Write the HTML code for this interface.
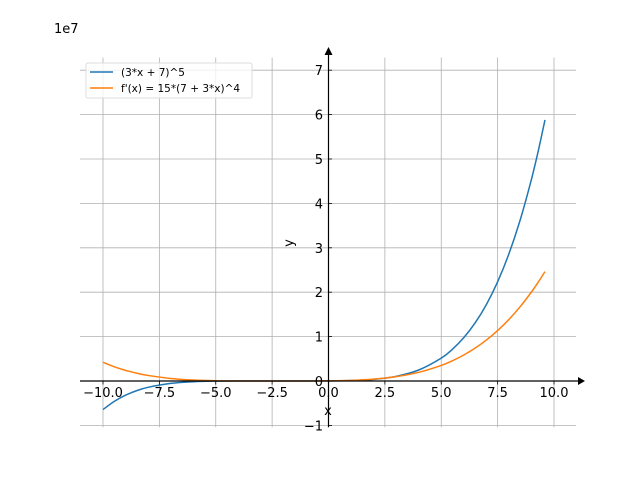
<!DOCTYPE html>
<html><head><meta charset="utf-8"><style>body{margin:0;background:#fff}svg text{font-family:"DejaVu Sans","Liberation Sans",sans-serif}</style></head>
<body>
<svg id="chart" width="640" height="480" viewBox="0 0 640 480" xmlns="http://www.w3.org/2000/svg">
<g id="grid"></g>
<g id="series"></g>
<g id="axes"></g>
<text x="54" y="33" font-size="13">1e7</text>
<text x="328" y="415" font-size="13" text-anchor="middle">x</text>
<text x="293" y="243" font-size="13" text-anchor="middle" transform="rotate(-90 293 243)">y</text>
<g>
<rect x="86" y="63" width="166" height="35" rx="2" fill="#fff" fill-opacity="0.8" stroke="#ddd"/>
<line x1="90" y1="72" x2="113" y2="72" stroke="#1f77b4" stroke-width="1.5"/>
<text x="121" y="76" font-size="10.5">(3*x + 7)^5</text>
<line x1="90" y1="88" x2="113" y2="88" stroke="#ff7f0e" stroke-width="1.5"/>
<text x="121" y="92" font-size="10.5">f'(x) = 15*(7 + 3*x)^4</text>
</g>
</svg>
<script>
const xs=[-10,-9.5,-9,-8.5,-8,-7,-6,-5,-4,-3,-2,-1,0,1,2,3,4,5,5.5,6,6.5,7,7.5,8,8.5,9,9.3,9.6];
const fVals=[-6.436,-4.594,-3.2,-2.167,-1.420,-0.538,-0.161,-0.033,-0.003,0,0,0.001,0.017,0.1,0.371,1.049,2.476,5.154,7.167,9.766,13.069,17.210,22.341,28.629,36.259,45.435,51.776,58.805];
const dfVals=[4.198,3.205,2.4,1.757,1.253,0.576,0.220,0.061,0.009,0,0,0.004,0.036,0.15,0.428,0.983,1.955,3.514,4.575,5.859,7.397,9.220,11.360,13.853,16.735,20.045,22.253,24.639];
const xTicks=[-10,-7.5,-5,-2.5,0,2.5,5,7.5,10];
const xTickLabels=["−10.0","−7.5","−5.0","−2.5","0.0","2.5","5.0","7.5","10.0"];
const yTicks=[-1,0,1,2,3,4,5,6,7];
const yTickLabels=["−1","0","1","2","3","4","5","6","7"];
const L=80,R=576,T=57.6,B=427.2;
const X=v=>328.5+v*22.55;
const Y=v=>381-v*4.44; // v in millions
const NS="http://www.w3.org/2000/svg";
function mk(tag,attrs,parent,txt){const e=document.createElementNS(NS,tag);for(const k in attrs)e.setAttribute(k,attrs[k]);if(txt!=null)e.textContent=txt;parent.appendChild(e);return e;}
const grid=document.getElementById('grid'),axes=document.getElementById('axes'),series=document.getElementById('series');
xTicks.forEach((t,i)=>{
 const g=mk('line',{x1:X(t),x2:X(t),y1:T,y2:B,stroke:'#b0b0b0','stroke-width':0.8},grid);
 
 
 const tk=mk('line',{x1:X(t),x2:X(t),y1:381,y2:384.5,stroke:'#000','stroke-width':0.8},axes);
 
 
 const lb=mk('text',{x:X(t),y:397,'font-size':13,'text-anchor':'middle'},axes,xTickLabels[i]);
 
 
});
yTicks.forEach((t,i)=>{
 const y=Y(t*10);
 const g=mk('line',{x1:L,x2:R,y1:y,y2:y,stroke:'#b0b0b0','stroke-width':0.8},grid);
 
 
 const tk=mk('line',{x1:328.5,x2:332,y1:y,y2:y,stroke:'#000','stroke-width':0.8},axes);
 
 
 const lb=mk('text',{x:323,y:y+5,'font-size':13,'text-anchor':'end'},axes,yTickLabels[i]);
 
 
});
const xa=mk('line',{x1:L,x2:580,y1:381,y2:381,stroke:'#000','stroke-width':1.2},axes);


const xar=mk('path',{d:'M578,377 L585,381 L578,385 Z',fill:'#000'},axes);


const ya=mk('line',{x1:328.5,x2:328.5,y1:52,y2:B,stroke:'#000','stroke-width':1.2},axes);


const yar=mk('path',{d:'M324.5,55 L328.5,47 L332.5,55 Z',fill:'#000'},axes);


function smooth(vals){
 const p=xs.map((x,i)=>[X(x),Y(vals[i])]);
 let d='M'+p[0][0]+','+p[0][1];
 for(let i=0;i<p.length-1;i++){
  const p0=p[Math.max(0,i-1)],p1=p[i],p2=p[i+1],p3=p[Math.min(p.length-1,i+2)];
  const c1=[p1[0]+(p2[0]-p0[0])/6,p1[1]+(p2[1]-p0[1])/6];
  const c2=[p2[0]-(p3[0]-p1[0])/6,p2[1]-(p3[1]-p1[1])/6];
  d+=` C${c1[0]},${c1[1]} ${c2[0]},${c2[1]} ${p2[0]},${p2[1]}`;
 }
 return d;
}
const l1=mk('path',{d:smooth(fVals),fill:'none',stroke:'#1f77b4','stroke-width':1.5},series);


const l2=mk('path',{d:smooth(dfVals),fill:'none',stroke:'#ff7f0e','stroke-width':1.5},series);


</script>
</body></html>
